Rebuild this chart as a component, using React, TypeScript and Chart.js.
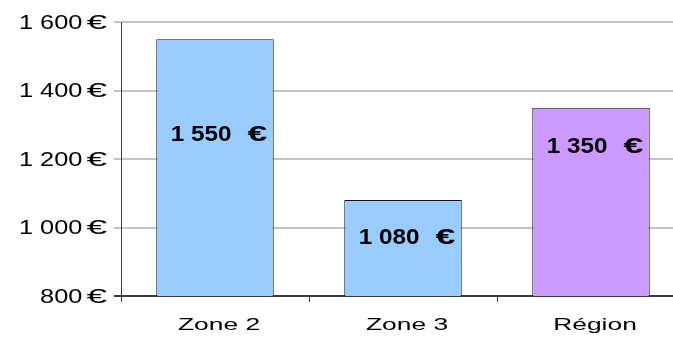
import React, { useEffect, useRef } from "react";
import { Chart, registerables } from "chart.js";

Chart.register(...registerables);

// Average amount per area, in euros
const categories = ["Zone 2", "Zone 3", "Région"];
const amounts = [1550, 1080, 1350];
const yTickValues = [800, 1000, 1200, 1400, 1600];

const barFills = ["#99CCFF", "#99CCFF", "#CC99FF"];
// how far below the top of each bar its value label sits (px)
const labelDrop = [94, 36, 38];

const FONT = '"Liberation Sans", Arial, sans-serif';
const DARK = "#3a3a3a";
const GRID = "#c4c4c4";

function groupThousands(v: number): string {
  return String(Math.round(v)).replace(/\B(?=(\d{3})+(?!\d))/g, " ");
}

type TextStyle = { size: number; bold?: boolean; sx: number; euroSx: number; gap: number };

const tickStyle: TextStyle = { size: 19.5, sx: 1.3, euroSx: 1.9, gap: 4 };
const valueStyle: TextStyle = { size: 21.5, bold: true, sx: 1.13, euroSx: 1.65, gap: 16 };
const CAT_SIZE = 16.5;
const CAT_SX = 1.6;

function drawEuro(
  ctx: CanvasRenderingContext2D,
  value: number,
  x: number,
  y: number,
  align: "right" | "center",
  st: TextStyle
) {
  const num = groupThousands(value);
  ctx.font = `${st.bold ? "bold " : ""}${st.size}px ${FONT}`;
  ctx.textAlign = "left";
  ctx.textBaseline = "alphabetic";
  ctx.fillStyle = "#000";
  const wNum = ctx.measureText(num).width * st.sx;
  const wEur = ctx.measureText("€").width * st.euroSx;
  const total = wNum + st.gap + wEur;
  const x0 = align === "right" ? x - total : x - total / 2;
  ctx.save();
  ctx.translate(x0, y);
  ctx.scale(st.sx, 1);
  ctx.fillText(num, 0, 0);
  ctx.restore();
  ctx.save();
  ctx.translate(x0 + wNum + st.gap, y);
  ctx.scale(st.euroSx, 1);
  ctx.fillText("€", 0, 0);
  ctx.restore();
}

const textLayer = {
  id: "textLayer",
  afterDraw(chart: any) {
    const ctx: CanvasRenderingContext2D = chart.ctx;
    const xs = chart.scales.x;
    const ys = chart.scales.y;
    ctx.save();

    // value axis labels
    const capT = tickStyle.size * 0.716;
    ys.ticks.forEach((t: any) => {
      const py = ys.getPixelForValue(t.value);
      drawEuro(ctx, t.value, ys.right - 14, py + capT / 2, "right", tickStyle);
    });

    // category labels
    ctx.font = `${CAT_SIZE}px ${FONT}`;
    ctx.fillStyle = "#000";
    ctx.textAlign = "center";
    ctx.textBaseline = "alphabetic";
    categories.forEach((c, i) => {
      const px = xs.getPixelForValue(i) + 4;
      ctx.save();
      ctx.translate(px, xs.top + 33.5);
      ctx.scale(CAT_SX, 1);
      ctx.fillText(c, 0, 0);
      ctx.restore();
    });

    // value labels inside the bars
    const capV = valueStyle.size * 0.716;
    const meta = chart.getDatasetMeta(0);
    meta.data.forEach((bar: any, i: number) => {
      drawEuro(ctx, amounts[i], bar.x + 4, bar.y + labelDrop[i] + capV / 2, "center", valueStyle);
    });

    ctx.restore();
  },
};

export default function App() {
  const ref = useRef<HTMLCanvasElement>(null);

  useEffect(() => {
    if (!ref.current) return;
    const chart = new Chart(ref.current, {
      type: "bar",
      data: {
        labels: categories,
        datasets: [
          {
            data: amounts,
            backgroundColor: barFills,
            borderColor: "#111",
            borderWidth: 1,
            barPercentage: 1,
            categoryPercentage: 0.625,
          },
        ],
      },
      options: {
        animation: false,
        responsive: false,
        devicePixelRatio: 1,
        layout: { padding: { top: 22, right: 15, left: 0, bottom: 0 } },
        plugins: { legend: { display: false }, tooltip: { enabled: false } },
        scales: {
          x: {
            ticks: { display: false },
            grid: {
              drawOnChartArea: false,
              drawTicks: true,
              tickLength: 6,
              tickColor: DARK,
              color: DARK,
              offset: true,
            },
            border: { color: DARK, width: 1 },
            afterFit: (s: any) => {
              s.height = 41;
            },
          },
          y: {
            min: 800,
            max: 1600,
            ticks: { display: false },
            afterBuildTicks: (s: any) => {
              s.ticks = yTickValues.map((v) => ({ value: v }));
            },
            grid: {
              color: (c: any) => (c.tick && c.tick.value === 800 ? DARK : GRID),
              tickColor: (c: any) => (c.tick && c.tick.value === 800 ? DARK : GRID),
              lineWidth: 2,
              tickLength: 7,
            },
            border: { color: DARK, width: 1 },
            afterFit: (s: any) => {
              s.width = 121;
            },
          },
        },
      },
      plugins: [textLayer],
    });
    return () => chart.destroy();
  }, []);

  return (
    <div
      style={{
        position: "fixed",
        left: 0,
        top: 0,
        width: 673,
        height: 337,
        overflow: "hidden",
        background: "#fff",
      }}
    >
      <canvas ref={ref} width={700} height={337} style={{ display: "block", width: 700, height: 337 }} />
    </div>
  );
}
